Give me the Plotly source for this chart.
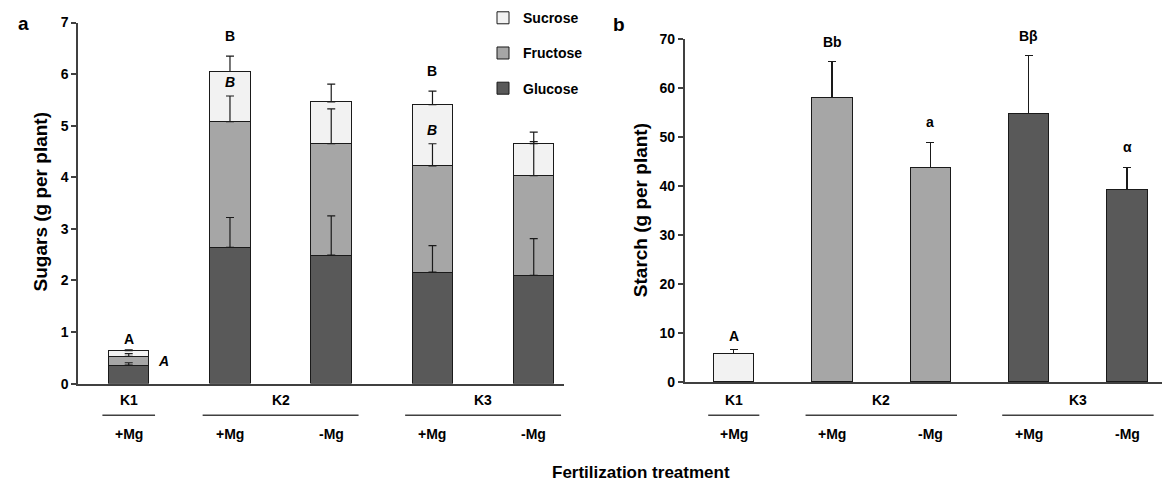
import plotly.graph_objects as go

# ---------------- data ----------------
groups = ["K1", "K2", "K3"]
mg_labels = ["+Mg", "+Mg", "-Mg", "+Mg", "-Mg"]
bar_group = [0, 1, 1, 2, 2]          # which K group each bar belongs to

glucose = [0.36, 2.64, 2.49, 2.16, 2.10]
glucose_err = [0.045, 0.58, 0.76, 0.515, 0.71]
fructose = [0.17, 2.44, 2.16, 2.06, 1.93]
fructose_err = [0.05, 0.495, 0.675, 0.43, 0.66]
sucrose = [0.11, 0.97, 0.81, 1.19, 0.62]
sucrose_err = [0.015, 0.30, 0.345, 0.26, 0.225]
sugar_letters = ["A", "B", "", "B", ""]
fructose_letters = ["A", "B", "", "B", ""]

starch = [5.8, 58.0, 43.8, 54.8, 39.2]
starch_err = [0.8, 7.3, 5.1, 11.7, 4.6]
starch_letters = ["A", "Bb", "a", "Bβ", "α"]

# ---------------- style ----------------
W, H = 1162, 490
FONT = "Arial, Liberation Sans, sans-serif"
AX = "#404040"
EDGE = "#1a1a1a"
C_SUC, C_FRU, C_GLU = "#f2f2f2", "#a6a6a6", "#595959"
group_colors = [C_SUC, C_FRU, C_GLU]


def px(x):
    return x / W


def py(y):
    return 1 - y / H


def bfont(size):
    return dict(family=FONT, size=size, color="black", weight="bold")


xs = list(range(len(mg_labels)))
fig = go.Figure()

# stacked sugars (panel a)
for rank, (name, vals, col) in enumerate([("Glucose", glucose, C_GLU), ("Fructose", fructose, C_FRU),
                                          ("Sucrose", sucrose, C_SUC)]):
    fig.add_trace(go.Bar(x=xs, y=vals, name=name, width=0.4,
                         marker=dict(color=col, line=dict(color=EDGE, width=1)),
                         legendgroup=name, legendrank=10 - rank,
                         xaxis="x", yaxis="y", hoverinfo="skip"))

cum_g = glucose
cum_f = [g + f for g, f in zip(glucose, fructose)]
cum_s = [g + f + s for g, f, s in zip(glucose, fructose, sucrose)]
for tops, errs in [(cum_g, glucose_err), (cum_f, fructose_err), (cum_s, sucrose_err)]:
    fig.add_trace(go.Scatter(x=xs, y=tops, mode="markers", marker=dict(size=1, opacity=0),
                             error_y=dict(type="data", symmetric=False, array=errs,
                                          arrayminus=[0] * len(errs), color=EDGE,
                                          thickness=1.2, width=4),
                             showlegend=False, hoverinfo="skip", xaxis="x", yaxis="y"))

# starch (panel b)
fig.add_trace(go.Bar(x=xs, y=starch, width=0.41,
                     marker=dict(color=[group_colors[g] for g in bar_group],
                                 line=dict(color=EDGE, width=1)),
                     error_y=dict(type="data", symmetric=False, array=starch_err,
                                  arrayminus=[0] * len(starch_err), color=EDGE,
                                  thickness=1.2, width=4),
                     showlegend=False, hoverinfo="skip", xaxis="x2", yaxis="y2"))

ann = []
shapes = []
LET = bfont(14)

# letters panel a
for i, t in enumerate(sugar_letters):
    if t:
        ann.append(dict(x=i, y=cum_s[i] + sucrose_err[i], xref="x", yref="y", text=t,
                        showarrow=False, xanchor="center", yanchor="middle",
                        yshift=20 if i else 11, font=LET))
for i, t in enumerate(fructose_letters):
    if t:
        if i == 0:
            ann.append(dict(x=i + 0.34, y=glucose[i] + fructose[i] / 2, xref="x", yref="y",
                            text="<i>" + t + "</i>", showarrow=False, xanchor="center",
                            yanchor="middle", font=LET))
        else:
            ann.append(dict(x=i, y=cum_f[i] + fructose_err[i], xref="x", yref="y",
                            text="<i>" + t + "</i>", showarrow=False, xanchor="center",
                            yanchor="middle", yshift=14, font=LET))
# letters panel b
for i, t in enumerate(starch_letters):
    ann.append(dict(x=i, y=starch[i] + starch_err[i], xref="x2", yref="y2", text=t,
                    showarrow=False, xanchor="center", yanchor="middle",
                    yshift=20 if i else 14, font=LET))

# category labels
group_span = {0: (-0.26, 0.26), 1: (0.73, 2.27), 2: (2.73, 4.27)}
for xr in ["x", "x2"]:
    for gi, g in enumerate(groups):
        members = [i for i, b in enumerate(bar_group) if b == gi]
        c = (members[0] + members[-1]) / 2
        ann.append(dict(x=c, y=py(405), xref=xr, yref="paper", text=g, showarrow=False,
                        xanchor="center", yanchor="middle", font=bfont(14)))
        x0, x1 = group_span[gi]
        shapes.append(dict(type="line", xref=xr, yref="paper", x0=x0, x1=x1,
                           y0=py(421), y1=py(421), line=dict(color=AX, width=1.5)))
    for i, t in enumerate(mg_labels):
        ann.append(dict(x=i, y=py(440), xref=xr, yref="paper", text=t, showarrow=False,
                        xanchor="center", yanchor="middle", font=bfont(14)))

# titles and panel letters
ann.append(dict(x=px(40), y=py(200), xref="paper", yref="paper", text="Sugars (g per plant)",
                textangle=-90, showarrow=False, xanchor="center", yanchor="middle", font=bfont(19)))
ann.append(dict(x=px(640), y=py(209), xref="paper", yref="paper", text="Starch (g per plant)",
                textangle=-90, showarrow=False, xanchor="center", yanchor="middle", font=bfont(19)))
ann.append(dict(x=px(641), y=py(480), xref="paper", yref="paper", text="Fertilization treatment",
                showarrow=False, xanchor="center", yanchor="middle", font=bfont(17)))
ann.append(dict(x=px(23), y=py(16), xref="paper", yref="paper", text="a", showarrow=False,
                xanchor="center", yanchor="middle", font=bfont(19)))
ann.append(dict(x=px(619), y=py(17), xref="paper", yref="paper", text="b", showarrow=False,
                xanchor="center", yanchor="middle", font=bfont(19)))

yax = dict(showline=True, linecolor=AX, linewidth=1.5, ticks="outside", ticklen=5,
           tickwidth=1.5, tickcolor=AX, showgrid=False, zeroline=False,
           tickfont=bfont(14))
xax = dict(showline=True, linecolor=AX, linewidth=1.5, showticklabels=False, ticks="",
           showgrid=False, zeroline=False)

fig.update_layout(
    width=W, height=H, margin=dict(l=0, r=0, t=0, b=0),
    paper_bgcolor="white", plot_bgcolor="white",
    barmode="stack",
    xaxis=dict(xax, domain=[px(78.1), px(564.1)], range=[-0.5, 4.3]),
    yaxis=dict(yax, domain=[py(388.3), py(15)], range=[0, 7], dtick=1),
    xaxis2=dict(xax, domain=[px(684.6), 1.0], range=[-0.5, 4.355], anchor="y2"),
    yaxis2=dict(yax, domain=[py(386.5), py(31.7)], range=[0, 70], dtick=10, anchor="x2"),
    legend=dict(x=px(483), y=py(-6), xanchor="left", yanchor="top", traceorder="grouped",
                tracegroupgap=14, bgcolor="rgba(0,0,0,0)", font=bfont(14)),
    annotations=ann, shapes=shapes,
)

fig.write_html("out.html")
